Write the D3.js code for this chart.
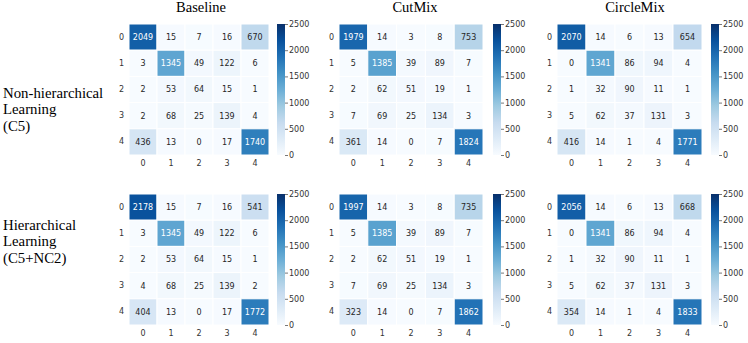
<!DOCTYPE html>
<html>
<head>
<meta charset="utf-8">
<script src="https://cdn.jsdelivr.net/npm/d3@7"></script>
<style>
  body { margin: 0; background: #fff; }
  svg { display: block; }
</style>
</head>
<body>
<div id="chart"></div>
<script>
// class labels and panel labels
const categories = ['0', '1', '2', '3', '4'];
const methods = ['Baseline', 'CutMix', 'CircleMix'];
const rowLabels = [
  ['Non-hierarchical', 'Learning', '(C5)'],
  ['Hierarchical', 'Learning', '(C5+NC2)'],
];
const colorbarTicks = [0, 500, 1000, 1500, 2000, 2500];

// confusion matrices, rows = true class, cols = predicted
const baselineC5 = [
  [2049, 15, 7, 16, 670],
  [3, 1345, 49, 122, 6],
  [2, 53, 64, 15, 1],
  [2, 68, 25, 139, 4],
  [436, 13, 0, 17, 1740],
];
const cutmixC5 = [
  [1979, 14, 3, 8, 753],
  [5, 1385, 39, 89, 7],
  [2, 62, 51, 19, 1],
  [7, 69, 25, 134, 3],
  [361, 14, 0, 7, 1824],
];
const circlemixC5 = [
  [2070, 14, 6, 13, 654],
  [0, 1341, 86, 94, 4],
  [1, 32, 90, 11, 1],
  [5, 62, 37, 131, 3],
  [416, 14, 1, 4, 1771],
];
const baselineHier = [
  [2178, 15, 7, 16, 541],
  [3, 1345, 49, 122, 6],
  [2, 53, 64, 15, 1],
  [4, 68, 25, 139, 2],
  [404, 13, 0, 17, 1772],
];
const cutmixHier = [
  [1997, 14, 3, 8, 735],
  [5, 1385, 39, 89, 7],
  [2, 62, 51, 19, 1],
  [7, 69, 25, 134, 3],
  [323, 14, 0, 7, 1862],
];
const circlemixHier = [
  [2056, 14, 6, 13, 668],
  [0, 1341, 86, 94, 4],
  [1, 32, 90, 11, 1],
  [5, 62, 37, 131, 3],
  [354, 14, 1, 4, 1833],
];

const matrices = [
  [baselineC5, cutmixC5, circlemixC5],
  [baselineHier, cutmixHier, circlemixHier],
];

const width = 748, height = 343;
const vmax = 2500;

// layout
const panelX = [129, 339, 557];
const panelW = [140, 144, 145];
const cbX = [277, 493, 711];
const titleX = [201, 415, 635];
const panelY = [24, 194];
const labelY = [98, 230];
const hmH = 131;
const cbW = 8;

// matplotlib-like Blues: linear through the 9 brewer stops
const blues = d3.schemeBlues[9];
const color = d3.scaleLinear()
  .domain(d3.range(9).map(i => i * vmax / 8))
  .range(blues)
  .interpolate(d3.interpolateRgb)
  .clamp(true);

const luminance = (c) => {
  const rgb = d3.rgb(c);
  const f = v => { v /= 255; return v <= 0.03928 ? v / 12.92 : Math.pow((v + 0.055) / 1.055, 2.4); };
  return 0.2126 * f(rgb.r) + 0.7152 * f(rgb.g) + 0.0722 * f(rgb.b);
};

const svg = d3.select('#chart').append('svg')
  .attr('width', width)
  .attr('height', height);

const defs = svg.append('defs');
const grad = defs.append('linearGradient')
  .attr('id', 'bluesGrad')
  .attr('x1', 0).attr('y1', 1).attr('x2', 0).attr('y2', 0);
blues.forEach((c, i) => {
  grad.append('stop').attr('offset', i / 8).attr('stop-color', c);
});

const sans = "'DejaVu Sans', sans-serif";
const serif = "'Liberation Serif', 'Times New Roman', serif";

// method titles
methods.forEach((m, j) => {
  svg.append('text')
    .attr('x', titleX[j])
    .attr('y', 12)
    .attr('text-anchor', 'middle')
    .style('font-family', serif)
    .style('font-size', '14.5px')
    .attr('fill', '#000')
    .text(m);
});

// learning labels on the left
rowLabels.forEach((lines, i) => {
  const t = svg.append('text')
    .style('font-family', serif)
    .style('font-size', '14.8px')
    .attr('fill', '#000');
  lines.forEach((l, k) => {
    t.append('tspan')
      .attr('x', 3)
      .attr('y', labelY[i] + k * 16.3)
      .text(l);
  });
});

matrices.forEach((row, i) => {
  row.forEach((mat, j) => {
    const hmW = panelW[j];
    const g = svg.append('g')
      .attr('transform', `translate(${panelX[j]},${panelY[i]})`);

    const x = d3.scaleBand().domain(categories).range([0, hmW]);
    const y = d3.scaleBand().domain(categories).range([0, hmH]);

    const cells = mat.flatMap((r, ri) => r.map((v, ci) => ({ r: categories[ri], c: categories[ci], v })));

    g.selectAll('rect.cell')
      .data(cells)
      .join('rect')
      .attr('class', 'cell')
      .attr('x', d => x(d.c))
      .attr('y', d => y(d.r))
      .attr('width', x.bandwidth())
      .attr('height', y.bandwidth())
      .attr('fill', d => color(d.v))
      .attr('stroke', '#fff')
      .attr('stroke-width', 1);

    g.selectAll('text.annot')
      .data(cells)
      .join('text')
      .attr('class', 'annot')
      .attr('x', d => x(d.c) + x.bandwidth() / 2)
      .attr('y', d => y(d.r) + y.bandwidth() / 2)
      .attr('dy', '0.35em')
      .attr('text-anchor', 'middle')
      .style('font-family', sans)
      .style('font-size', '8px')
      .attr('fill', d => luminance(color(d.v)) > 0.408 ? '#262626' : '#fff')
      .text(d => d.v);

    // axes without domain lines / ticks, like seaborn
    const xAxis = g.append('g')
      .attr('transform', `translate(0,${hmH})`)
      .call(d3.axisBottom(x).tickSize(0).tickPadding(5));
    const yAxis = g.append('g')
      .call(d3.axisLeft(y).tickSize(0).tickPadding(5));
    [xAxis, yAxis].forEach(a => {
      a.select('.domain').remove();
      a.selectAll('text')
        .style('font-family', sans)
        .style('font-size', '8px')
        .attr('fill', '#333');
    });

    // colorbar
    const cb = g.append('g').attr('transform', `translate(${cbX[j] - panelX[j]},0)`);
    cb.append('rect')
      .attr('width', cbW)
      .attr('height', hmH)
      .attr('fill', 'url(#bluesGrad)');
    const cbScale = d3.scaleLinear().domain([0, vmax]).range([hmH, 0]);
    const cbAxis = cb.append('g')
      .attr('transform', `translate(${cbW},0)`)
      .call(d3.axisRight(cbScale).tickValues(colorbarTicks).tickFormat(d3.format('d')).tickSize(3).tickPadding(1));
    cbAxis.select('.domain').remove();
    cbAxis.selectAll('line').attr('stroke', '#555').attr('stroke-width', 0.8);
    cbAxis.selectAll('text')
      .style('font-family', sans)
      .style('font-size', '8px')
      .attr('fill', '#333');
  });
});
</script>
</body>
</html>
